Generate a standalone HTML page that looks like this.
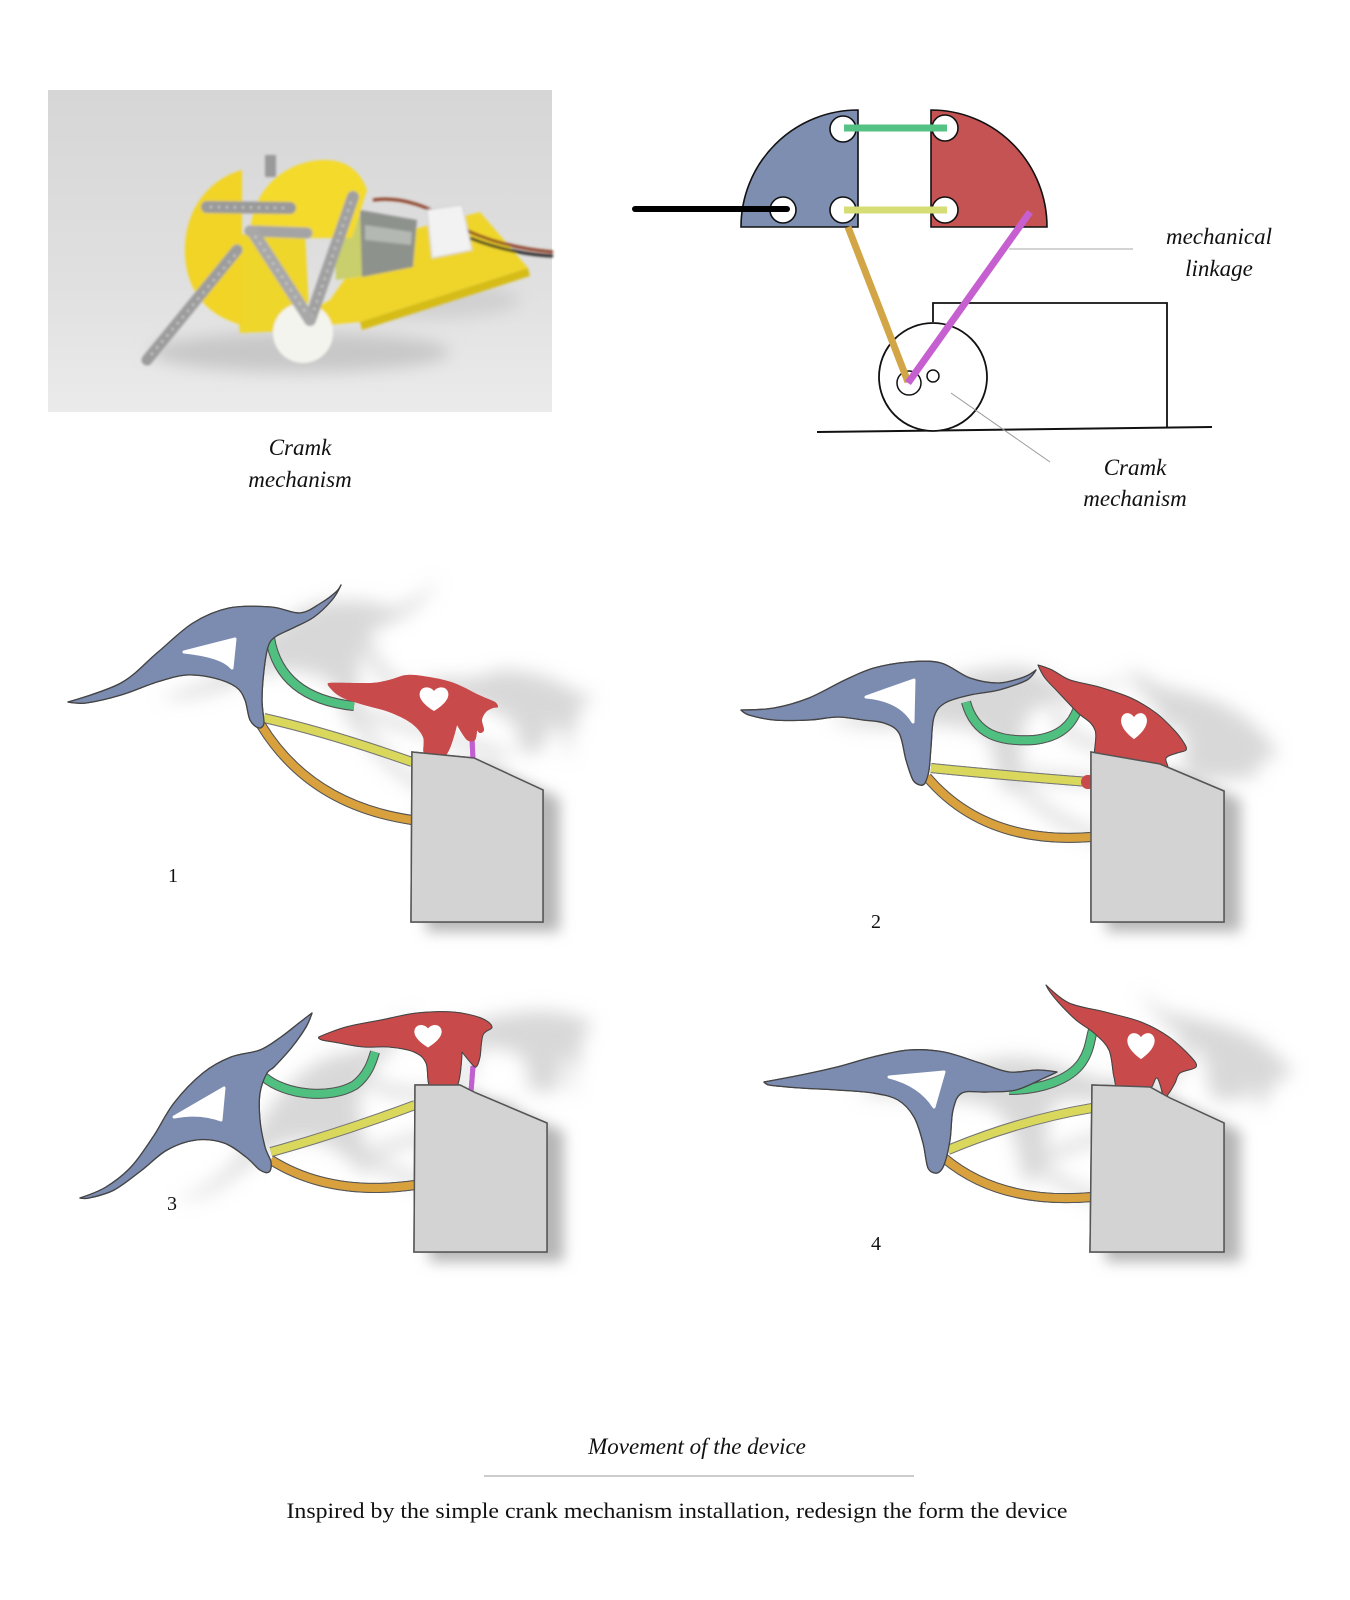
<!DOCTYPE html>
<html><head><meta charset="utf-8"><style>
html,body{margin:0;padding:0;background:#fff;}
svg{display:block;}
text{font-family:"Liberation Serif","Times New Roman",serif;fill:#111;}
.it{font-style:italic;}
</style></head><body>
<svg width="1350" height="1600" viewBox="0 0 1350 1600" xmlns="http://www.w3.org/2000/svg">
<defs>
<linearGradient id="pbg" x1="0" y1="0" x2="0" y2="1">
<stop offset="0" stop-color="#d6d6d6"/><stop offset="0.6" stop-color="#e0e0e0"/><stop offset="1" stop-color="#ebebeb"/>
</linearGradient>
<filter id="ghost" x="-40%" y="-40%" width="180%" height="180%">
<feColorMatrix type="matrix" values="0 0 0 0 0.45 0 0 0 0 0.45 0 0 0 0 0.45 0 0 0 0.5 0"/>
<feGaussianBlur stdDeviation="9"/>
</filter>
<filter id="bsh" x="-40%" y="-40%" width="180%" height="180%">
<feColorMatrix type="matrix" values="0 0 0 0 0.3 0 0 0 0 0.3 0 0 0 0 0.3 0 0 0 0.7 0"/>
<feGaussianBlur stdDeviation="7"/>
</filter>
<filter id="soft2" x="-20%" y="-20%" width="140%" height="140%"><feGaussianBlur stdDeviation="1.3"/></filter>
<filter id="soft8" x="-40%" y="-40%" width="180%" height="180%"><feGaussianBlur stdDeviation="8"/></filter>
<path id="heart" d="M0,11 C-10,5 -16,-2 -14,-8 C-12,-14 -4,-14 0,-9 C4,-14 12,-14 14,-8 C16,-2 10,5 0,11 Z" fill="#fff"/>
</defs>

<!-- ===== PHOTO ===== -->
<rect x="48" y="90" width="504" height="322" fill="url(#pbg)"/>
<g filter="url(#soft8)">
<ellipse cx="300" cy="352" rx="150" ry="20" fill="#c8c8c8"/>
<ellipse cx="430" cy="300" rx="90" ry="18" fill="#d0d0d0"/>
</g>
<g filter="url(#soft2)">
<!-- base plate -->
<polygon points="275,330 330,300 372,240 480,212 528,268 360,322" fill="#efd52a"/>
<polygon points="360,322 528,268 530,276 362,330" fill="#d6bc18"/>
<!-- wires -->
<path d="M373,200 C400,196 430,205 470,232 C500,245 530,250 553,252" stroke="#8a3a20" stroke-width="3" fill="none"/>
<path d="M470,238 C500,250 530,255 553,256" stroke="#222" stroke-width="3" fill="none"/>
<!-- white connector -->
<polygon points="427,210 462,205 472,250 432,258" fill="#f2f2f2" stroke="#cfcfcf"/>
<!-- motor -->
<polygon points="333,222 370,214 372,275 336,280" fill="#c9cf6c"/>
<polygon points="360,210 417,220 413,267 362,277" fill="#8e928c"/>
<polygon points="365,225 412,232 411,245 365,240" fill="#b4b8b2"/>
<!-- yellow cylinder -->
<path d="M228,235 L305,232 L310,330 L240,333 Z" fill="#eed62c"/>
<!-- left half disc -->
<path d="M242,170 C205,180 183,215 185,255 C187,290 205,315 242,325 Z" fill="#f1d426"/>
<!-- big disc -->
<path d="M250,238 C250,185 290,160 325,160 C345,160 360,170 367,190 L352,238 Z" fill="#f4da2c"/>
<rect x="265" y="155" width="11" height="22" fill="#9a9a9a"/>
<!-- gear -->
<circle cx="303" cy="333" r="30" fill="#f4f4ee"/>
<!-- bars -->
<g stroke-linecap="round" fill="none">
<path d="M207,207 L290,208" stroke="#9a9a9a" stroke-width="12"/>
<path d="M250,231 L307,233" stroke="#a4a4a4" stroke-width="11"/>
<path d="M353,197 L310,320" stroke="#a0a0a0" stroke-width="12"/>
<path d="M253,232 L310,320" stroke="#a8a8a8" stroke-width="12"/>
<path d="M237,250 L147,360" stroke="#9c9c9c" stroke-width="11"/>
</g>
<g stroke="#d8d8d8" stroke-width="2" stroke-dasharray="2 6" fill="none">
<path d="M210,207 L288,208"/><path d="M351,202 L312,316"/><path d="M255,236 L308,316"/><path d="M235,255 L150,356"/>
</g>
</g>

<text class="it" x="300" y="455" font-size="23" text-anchor="middle">Cramk</text>
<text class="it" x="300" y="487" font-size="23" text-anchor="middle">mechanism</text>

<!-- ===== TOP-RIGHT DIAGRAM ===== -->
<path d="M858,110 L858,227 L741,227 A117,117 0 0 1 858,110 Z" fill="#7d8eb0" stroke="#111" stroke-width="1.6"/>
<path d="M931,110 A116,117 0 0 1 1047,227 L931,227 Z" fill="#c65353" stroke="#111" stroke-width="1.6"/>
<g fill="#fff" stroke="#111" stroke-width="1.6">
<circle cx="843" cy="129" r="13"/><circle cx="843" cy="210" r="13"/><circle cx="783" cy="210" r="13"/>
<circle cx="945" cy="128" r="13"/><circle cx="945" cy="210" r="13"/>
</g>
<line x1="635" y1="209" x2="787" y2="209" stroke="#000" stroke-width="6" stroke-linecap="round"/>
<line x1="844" y1="128" x2="947" y2="128" stroke="#53c283" stroke-width="7"/>
<line x1="844" y1="210" x2="947" y2="210" stroke="#d6dd74" stroke-width="7"/>
<path d="M933,322 L933,303 L1167,303 L1167,427" fill="none" stroke="#111" stroke-width="1.8"/>
<line x1="817" y1="432" x2="1212" y2="427" stroke="#111" stroke-width="2"/>
<circle cx="933" cy="377" r="54" fill="#fff" stroke="#111" stroke-width="1.8"/>
<circle cx="909" cy="383" r="12" fill="#fff" stroke="#111" stroke-width="1.5"/>
<circle cx="933" cy="376" r="6" fill="#fff" stroke="#111" stroke-width="1.5"/>
<line x1="848" y1="227" x2="908" y2="382" stroke="#d2a646" stroke-width="7"/>
<line x1="1030" y1="212" x2="908" y2="383" stroke="#c65fcf" stroke-width="7"/>
<line x1="1009" y1="249" x2="1133" y2="249" stroke="#aaa" stroke-width="1"/>
<line x1="951" y1="393" x2="1050" y2="462" stroke="#999" stroke-width="1"/>
<text class="it" x="1219" y="244" font-size="23" text-anchor="middle">mechanical</text>
<text class="it" x="1219" y="276" font-size="23" text-anchor="middle">linkage</text>
<text class="it" x="1135" y="475" font-size="23" text-anchor="middle">Cramk</text>
<text class="it" x="1135" y="506" font-size="23" text-anchor="middle">mechanism</text>

<!-- ===== FIGURE 1 ===== -->
<g id="f1s">
<g fill="none" stroke-linecap="butt">
<path d="M270,638 Q280,698 354,706" stroke="#555" stroke-width="10"/>
<path d="M270,638 Q280,698 354,706" stroke="#4fc07f" stroke-width="8"/>
<path d="M264,718 Q330,733 412,762" stroke="#777" stroke-width="10"/>
<path d="M264,718 Q330,733 412,762" stroke="#d9d85c" stroke-width="8"/>
<path d="M261,725 Q310,805 412,820" stroke="#555" stroke-width="10"/>
<path d="M261,725 Q310,805 412,820" stroke="#d9a13d" stroke-width="8"/>
<path d="M472,738 L473,760" stroke="#c25fd0" stroke-width="5"/>
</g>
<path class="sm" d="M68,702 L121,683 L157,653 L193,623 L229,608 L271,607 L300,613 L321,603 L336,592 L341,585 L332,600 L314,617 L293,628 L275,637 L268,647 L264,670 L262,700 L264,723 L259,728 L250,720 L245,700 L236,687 L214,678 L186,675 L157,682 L121,695 L86,703 Z" fill="#7c8cb0" stroke="#444" stroke-width="1.3" stroke-linejoin="round"/>
<path d="M184,652 L235,639 L232,668 Q222,656 184,652 Z" fill="#fff" stroke="#fff" stroke-width="3" stroke-linejoin="round"/>
<path class="sm" d="M329,683 L371,683 L389,680 L407,675 L429,677 L454,683 L479,695 L495,702 L498,707 L493,708 L486,712 L482,720 L484,730 L480,733 L477,730 L475,740 L467,740 L457,725 L446,755 L425,755 L423,737 L411,723 L389,712 L364,705 L343,698 L332,690 Z" fill="#c94a4a" stroke-linejoin="round"/>
<use href="#heart" transform="translate(434,700)"/>
</g>
<use href="#f1s" transform="translate(95,-5)" filter="url(#ghost)"/>
<polygon id="bx1" points="412,752 474,758 543,790 543,922 411,922" fill="#d3d3d3" stroke="#555" stroke-width="1.5"/>
<use href="#bx1" transform="translate(16,9)" filter="url(#bsh)"/>
<use href="#f1s"/>
<use href="#bx1"/>
<text x="173" y="882" font-size="20" text-anchor="middle">1</text>

<!-- ===== FIGURE 2 ===== -->
<g id="f2s">
<g fill="none">
<path d="M966,702 C975,735 1000,742 1034,740 C1060,737 1072,725 1078,708" stroke="#555" stroke-width="10"/>
<path d="M966,702 C975,735 1000,742 1034,740 C1060,737 1072,725 1078,708" stroke="#4fc07f" stroke-width="8"/>
<path d="M931,768 Q1000,775 1089,782" stroke="#777" stroke-width="10"/>
<path d="M931,768 Q1000,775 1089,782" stroke="#d9d85c" stroke-width="8"/>
<path d="M927,777 Q985,845 1091,837" stroke="#555" stroke-width="10"/>
<path d="M927,777 Q985,845 1091,837" stroke="#d9a13d" stroke-width="8"/>
</g>
<path class="sm" d="M741,710 L774,708 L809,698 L845,680 L874,668 L909,662 L941,663 L970,678 L999,683 L1024,677 L1036,670 L1027,680 L999,690 L970,695 L945,703 L934,717 L931,747 L929,770 L925,783 L920,785 L913,780 L906,760 L899,733 L884,723 L863,720 L838,717 L809,720 L774,720 L749,715 Z" fill="#7c8cb0" stroke="#444" stroke-width="1.3" stroke-linejoin="round"/>
<path d="M866,697 L914,680 L913,722 Q900,700 866,697 Z" fill="#fff" stroke="#fff" stroke-width="3" stroke-linejoin="round"/>
<path class="sm" d="M1038,665 L1052,670 L1070,680 L1099,687 L1131,698 L1156,713 L1174,730 L1184,743 L1186,750 L1177,753 L1166,758 L1166,770 L1100,770 L1095,730 L1077,712 L1059,693 L1045,678 Z" fill="#c94a4a" stroke="#444" stroke-width="1" stroke-linejoin="round"/>
<use href="#heart" transform="translate(1134,727) scale(0.9,1.1)"/>
<circle cx="1088" cy="782" r="7" fill="#c94a4a"/>
</g>
<use href="#f2s" transform="translate(90,6)" filter="url(#ghost)"/>
<polygon id="bx2" points="1091,752 1160,764 1224,791 1224,922 1091,922" fill="#d3d3d3" stroke="#555" stroke-width="1.5"/>
<use href="#bx2" transform="translate(16,9)" filter="url(#bsh)"/>
<use href="#f2s"/>
<use href="#bx2"/>
<text x="876" y="928" font-size="20" text-anchor="middle">2</text>

<!-- ===== FIGURE 3 ===== -->
<g id="f3s">
<g fill="none">
<path d="M264,1077 C285,1095 330,1100 355,1085 C368,1075 372,1062 375,1052" stroke="#555" stroke-width="10"/>
<path d="M264,1077 C285,1095 330,1100 355,1085 C368,1075 372,1062 375,1052" stroke="#4fc07f" stroke-width="8"/>
<path d="M271,1152 Q343,1132 415,1105" stroke="#777" stroke-width="10"/>
<path d="M271,1152 Q343,1132 415,1105" stroke="#d9d85c" stroke-width="8"/>
<path d="M271,1160 Q330,1197 415,1185" stroke="#555" stroke-width="10"/>
<path d="M271,1160 Q330,1197 415,1185" stroke="#d9a13d" stroke-width="8"/>
<path d="M473,1066 L471,1092" stroke="#c25fd0" stroke-width="5"/>
</g>
<path class="sm" d="M80,1198 L106,1187 L131,1167 L153,1137 L174,1103 L203,1073 L231,1057 L260,1050 L281,1037 L299,1023 L312,1013 L306,1027 L292,1047 L274,1067 L267,1073 L260,1093 L260,1120 L265,1147 L271,1162 L269,1172 L260,1170 L246,1157 L224,1143 L196,1140 L167,1150 L142,1170 L114,1190 L89,1198 Z" fill="#7c8cb0" stroke="#444" stroke-width="1.3" stroke-linejoin="round"/>
<path d="M174,1117 L224,1088 L221,1120 Q200,1112 174,1117 Z" fill="#fff" stroke="#fff" stroke-width="3" stroke-linejoin="round"/>
<path class="sm" d="M319,1037 L346,1027 L381,1020 L417,1013 L453,1012 L481,1018 L492,1027 L483,1035 L480,1057 L476,1067 L471,1063 L462,1052 L456,1088 L431,1088 L426,1063 L414,1052 L389,1047 L364,1047 L339,1043 L322,1040 Z" fill="#c94a4a" stroke="#444" stroke-width="1" stroke-linejoin="round"/>
<use href="#heart" transform="translate(428,1037) scale(0.95)"/>
</g>
<use href="#f3s" transform="translate(100,0)" filter="url(#ghost)"/>
<polygon id="bx3" points="415,1085 460,1085 476,1093 547,1123 547,1252 414,1252" fill="#d3d3d3" stroke="#555" stroke-width="1.5"/>
<use href="#bx3" transform="translate(16,9)" filter="url(#bsh)"/>
<use href="#f3s"/>
<use href="#bx3"/>
<text x="172" y="1210" font-size="20" text-anchor="middle">3</text>

<!-- ===== FIGURE 4 ===== -->
<g id="f4s">
<g fill="none">
<path d="M1009,1090 C1040,1090 1070,1080 1082,1062 C1090,1050 1090,1040 1093,1030" stroke="#555" stroke-width="10"/>
<path d="M1009,1090 C1040,1090 1070,1080 1082,1062 C1090,1050 1090,1040 1093,1030" stroke="#4fc07f" stroke-width="8"/>
<path d="M948,1150 Q1020,1120 1092,1108" stroke="#777" stroke-width="10"/>
<path d="M948,1150 Q1020,1120 1092,1108" stroke="#d9d85c" stroke-width="8"/>
<path d="M944,1158 Q1000,1205 1092,1197" stroke="#555" stroke-width="10"/>
<path d="M944,1158 Q1000,1205 1092,1197" stroke="#d9a13d" stroke-width="8"/>
<path d="M1164,1089 L1163,1099" stroke="#c25fd0" stroke-width="5"/>
</g>
<path class="sm" d="M764,1082 L801,1075 L837,1067 L873,1057 L909,1050 L944,1052 L980,1063 L1009,1072 L1037,1070 L1057,1072 L1044,1078 L1016,1090 L987,1092 L962,1093 L953,1110 L950,1140 L944,1165 L937,1173 L928,1168 L923,1143 L914,1117 L898,1100 L873,1093 L837,1090 L801,1088 L769,1085 Z" fill="#7c8cb0" stroke="#444" stroke-width="1.3" stroke-linejoin="round"/>
<path d="M889,1077 L944,1072 L934,1107 Q920,1085 889,1077 Z" fill="#fff" stroke="#fff" stroke-width="3" stroke-linejoin="round"/>
<path class="sm" d="M1046,985 L1069,1003 L1105,1012 L1141,1022 L1169,1037 L1191,1057 L1196,1067 L1180,1073 L1175,1083 L1169,1093 L1164,1097 L1157,1078 L1148,1090 L1120,1090 L1114,1077 L1109,1050 L1094,1033 L1076,1020 L1059,1003 L1050,992 Z" fill="#c94a4a" stroke="#444" stroke-width="1" stroke-linejoin="round"/>
<use href="#heart" transform="translate(1141,1047) scale(0.95,1.1)"/>
</g>
<use href="#f4s" transform="translate(95,8)" filter="url(#ghost)"/>
<polygon id="bx4" points="1092,1085 1150,1087 1170,1098 1224,1123 1224,1252 1090,1252" fill="#d3d3d3" stroke="#555" stroke-width="1.5"/>
<use href="#bx4" transform="translate(16,9)" filter="url(#bsh)"/>
<use href="#f4s"/>
<use href="#bx4"/>
<text x="876" y="1250" font-size="20" text-anchor="middle">4</text>

<!-- ===== BOTTOM TEXT ===== -->
<text class="it" x="697" y="1454" font-size="23" text-anchor="middle">Movement of the device</text>
<line x1="484" y1="1476" x2="914" y2="1476" stroke="#bbb" stroke-width="1.5"/>
<text x="677" y="1518" font-size="22" text-anchor="middle" textLength="781" lengthAdjust="spacingAndGlyphs">Inspired by the simple crank mechanism installation, redesign the form the device</text>
</svg>
<script>
(function(){
  var els=document.querySelectorAll('path.sm');
  for(var k=0;k<els.length;k++){
    var el=els[k];
    var nums=el.getAttribute('d').match(/-?\d+(\.\d+)?/g).map(Number);
    var p=[],i;
    for(i=0;i+1<nums.length;i+=2)p.push([nums[i],nums[i+1]]);
    var n=p.length,tan=[];
    for(i=0;i<n;i++){
      var a=p[(i-1+n)%n],b=p[i],c=p[(i+1)%n];
      var v1=[a[0]-b[0],a[1]-b[1]],v2=[c[0]-b[0],c[1]-b[1]];
      var l1=Math.hypot(v1[0],v1[1]),l2=Math.hypot(v2[0],v2[1]);
      var cs=(v1[0]*v2[0]+v1[1]*v2[1])/(l1*l2||1);
      var t=[(c[0]-a[0])/6,(c[1]-a[1])/6];
      var lim=Math.min(l1,l2)/Math.max(Math.hypot(t[0],t[1]),0.001)*0.45;
      if(lim<1){t=[t[0]*lim,t[1]*lim];}
      if(cs>0.55)t=[0,0];
      tan.push(t);
    }
    var d='M'+p[0][0]+','+p[0][1];
    for(i=0;i<n;i++){
      var q=p[i],r=p[(i+1)%n],tq=tan[i],tr=tan[(i+1)%n];
      d+=' C'+(q[0]+tq[0]).toFixed(1)+','+(q[1]+tq[1]).toFixed(1)+' '+(r[0]-tr[0]).toFixed(1)+','+(r[1]-tr[1]).toFixed(1)+' '+r[0]+','+r[1];
    }
    el.setAttribute('d',d+' Z');
  }
})();
</script>
</body></html>
